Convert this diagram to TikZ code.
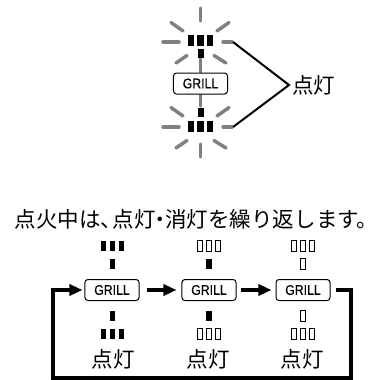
\documentclass[tikz,border=0pt]{standalone}
\usepackage{fontspec}
\setmainfont{Liberation Sans}
\newfontfamily\jpfont{Noto Sans CJK JP}
\newfontfamily\grillfont[FakeStretch=0.88,FakeBold=0.6]{Liberation Sans}
\usetikzlibrary{arrows.meta}
\definecolor{raygray}{gray}{0.5}
\newcommand\dispbar[3]{\path[#1] ({#2-2.7},{#3-5.25}) rectangle ({#2+2.7},{#3+5.25});}
\newcommand\disptriple[3]{\dispbar{#1}{#2-9}{#3}\dispbar{#1}{#2}{#3}\dispbar{#1}{#2+9}{#3}}
\begin{document}
\begin{tikzpicture}[x=1bp,y=-1bp,
  grillbox/.style={draw=black, line width=1bp, rounded corners=3bp, fill=white,
    minimum width=54bp, minimum height=21bp, inner sep=0pt,
    font=\grillfont\fontsize{14}{14}\selectfont},
  ray/.style={draw=raygray, line width=3.5bp, line cap=round},
  onbar/.style={fill=black},
  offbar/.style={fill=white, draw=black, line width=0.8bp},
  jplabel/.style={font=\jpfont\fontsize{21.6}{21.6}\selectfont, inner sep=0pt},
  flow/.style={line width=3.2bp, -{Triangle[length=13bp,width=11bp]}},
  bracket/.style={line width=2bp}
]
\useasboundingbox (0,0) rectangle (383,380);

% ---- upper illustration: flashing display ----
\foreach \dy in {0,85}{
  \begin{scope}[shift={(0,\dy)}]
    \draw[ray] (200.5,8) -- (200.5,21);
    \draw[ray] (171,22.5) -- (183,31);
    \draw[ray] (217,31) -- (229,22.5);
    \draw[ray] (163,42) -- (179,42);
    \draw[ray] (223,42) -- (232,42);
    \draw[ray] (176,63) -- (187,55.5);
    \draw[ray] (214,55.5) -- (226,63);
    \draw[ray] (200.5,59) -- (200.5,72);
  \end{scope}
}
\node[grillbox] (gt) at (200.5,83.5) {GRILL};
\foreach \x in {191,200.5,210}{
  \fill ({\x-3.2},35) rectangle ({\x+3.2},46);
  \fill ({\x-3.2},121) rectangle ({\x+3.2},132);
}
\fill (197.5,49) rectangle (203.5,58);
\fill (197.5,108) rectangle (203.5,117);

\coordinate (bt) at (233,42);
\coordinate (bb) at (233,127);
\node[jplabel, anchor=west] (lt) at (292,85) {点灯};
\draw[bracket] (bt) -- ([xshift=-3bp]lt.west) -- (bb);

% ---- title ----
\node[jplabel] (title) at (196.5,219) {点火中は、\kern-0.45em 点灯\kern-0.27em ・\kern-0.27em 消灯を繰り返します。};

% ---- lower sequence ----
\node[grillbox] (g1) at (112,290) {GRILL};
\node[grillbox] (g2) at (209,290) {GRILL};
\node[grillbox] (g3) at (303,290) {GRILL};

\disptriple{onbar}{112.5}{246}
\dispbar{onbar}{112.5}{264}
\dispbar{onbar}{112.5}{316}
\disptriple{onbar}{112.5}{334}

\disptriple{offbar}{209}{246}
\dispbar{onbar}{209}{264}
\dispbar{onbar}{209}{316}
\disptriple{offbar}{209}{334}

\disptriple{offbar}{303}{246}
\dispbar{offbar}{303}{264}
\dispbar{offbar}{303}{316}
\disptriple{offbar}{303}{334}

\node[jplabel] (l1) at (113,359) {点灯};
\node[jplabel] (l2) at (208.5,359) {点灯};
\node[jplabel] (l3) at (302,359) {点灯};

\draw[flow] ([xshift=7bp]g1.east) -- ([xshift=-5bp]g2.west);
\draw[flow] ([xshift=4bp]g2.east) -- ([xshift=-4bp]g3.west);
\coordinate (c1) at (351,378);
\coordinate (c2) at (53,378);
\draw[flow] ([xshift=5bp]g3.east) -| (c1) -- (c2) |- ([xshift=-2bp]g1.west);
\end{tikzpicture}
\end{document}
